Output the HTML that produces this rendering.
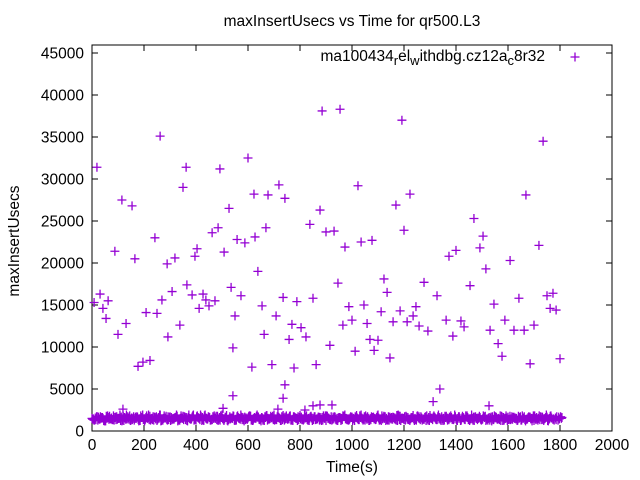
<!DOCTYPE html>
<html><head><meta charset="utf-8"><style>
body{margin:0;background:#fff}
svg{display:block;font-family:"Liberation Sans",sans-serif}
</style></head><body>
<svg id="chart" width="640" height="480" viewBox="0 0 640 480">
<rect width="640" height="480" fill="#fff"/>
<text x="352" y="26" font-size="15.5" text-anchor="middle">maxInsertUsecs vs Time for qr500.L3</text>
<g id="axes"></g>
<g id="points"></g>
<text x="545" y="61" font-size="15.5" text-anchor="end">ma100434<tspan font-size="13" dy="4">r</tspan><tspan dy="-4">el</tspan><tspan font-size="13" dy="4">w</tspan><tspan dy="-4">ithdbg.cz12a</tspan><tspan font-size="13" dy="4">c</tspan><tspan dy="-4">8r32</tspan></text>
<path d="M570.5 57h9M575 52.5v9" stroke="#9400d3" stroke-width="1.3"/>
<text x="352" y="472" font-size="15.5" text-anchor="middle">Time(s)</text>
<text transform="translate(19,241) rotate(-90)" font-size="15.5" text-anchor="middle">maxInsertUsecs</text>
</svg>
<script>
const xTicks=[0,200,400,600,800,1000,1200,1400,1600,1800,2000];
const yTicks=[0,5000,10000,15000,20000,25000,30000,35000,40000,45000];
const outT=[19,8,31,42,54,62,88,100,115,131,154,165,177,196,208,223,242,250,262,269,289,292,308,319,338,350,362,365,385,396,404,412,427,438,450,462,473,485,492,508,527,535,542,550,558,573,588,600,615,623,627,638,654,662,669,677,692,708,719,735,742,758,769,777,788,804,823,838,850,862,877,885,900,915,931,946,954,965,973,988,1000,1012,1023,1035,1046,1058,1069,1077,1085,1100,1112,1123,1135,1146,1158,1169,1185,1192,1200,1212,1223,1235,1246,1258,1277,1292,1312,1327,1338,1362,1373,1388,1400,1419,1431,1454,1469,1492,1504,1515,1531,1546,1562,1577,1588,1608,1623,1642,1662,1669,1685,1700,1719,1735,1750,1762,1773,1785,1800,119,504,542,742,735,850,877,923,715,819,1527];
const outV=[31400,15300,16300,14600,13400,15500,21400,11500,27500,12800,26800,20500,7700,8200,14100,8400,23000,14000,35100,15600,19900,11200,16600,20600,12600,29000,31400,17400,16200,20800,21700,14600,16300,15600,14900,23600,15500,24200,31200,21300,26500,17100,9900,13700,22800,16100,22400,32500,7600,28200,23100,19000,14900,11500,24200,28100,7900,13700,29300,15900,27700,10900,12700,7500,15400,12300,11200,24600,15800,7900,26300,38100,23700,10200,23800,17600,38300,12600,21900,14800,13200,9500,29200,22500,15000,12800,10900,22700,9600,10800,14200,18100,16500,8700,13000,26900,14300,37000,23900,13000,28200,13700,14800,12500,17700,11900,3500,16100,5000,13200,20800,11300,21500,13100,12400,17300,25300,21800,23200,19300,12000,15100,10400,8900,13200,20300,12000,15800,12000,28100,8000,12600,22100,34500,16100,14600,16400,14400,8600,2600,2700,4200,5500,3900,3000,3100,3100,2600,2500,3000];
const bandT=[0,10,20,30,40,50,60,70,80,90,100,110,120,130,140,150,160,170,180,190,200,210,220,230,240,250,260,270,280,290,300,310,320,330,340,350,360,370,380,390,400,410,420,430,440,450,460,470,480,490,500,510,520,530,540,550,560,570,580,590,600,610,620,630,640,650,660,670,680,690,700,710,720,730,740,750,760,770,780,790,800,810,820,830,840,850,860,870,880,890,900,910,920,930,940,950,960,970,980,990,1000,1010,1020,1030,1040,1050,1060,1070,1080,1090,1100,1110,1120,1130,1140,1150,1160,1170,1180,1190,1200,1210,1220,1230,1240,1250,1260,1270,1280,1290,1300,1310,1320,1330,1340,1350,1360,1370,1380,1390,1400,1410,1420,1430,1440,1450,1460,1470,1480,1490,1500,1510,1520,1530,1540,1550,1560,1570,1580,1590,1600,1610,1620,1630,1640,1650,1660,1670,1680,1690,1700,1710,1720,1730,1740,1750,1760,1770,1780,1790,1800];
const bandV=[1500,1300,1700,1400,1600,1200,1800,1450,1350,1650,1500,1250,1750,1400,1550,1300,1700,1500,1200,1600,1450,1800,1350,1500,1650,1250,1900,1400,1550,1300,1700,1450,1600,1200,1500,1750,1350,1600,1400,1900,1300,1550,1700,1250,1500,1650,1400,1800,1350,1600,1900,1450,1300,1700,1500,1250,1800,1400,1600,1350,1550,1750,1300,1500,1650,1200,1450,1800,1400,1600,1900,1350,1550,1700,1300,1500,1750,1400,1600,1250,1850,1450,1550,1300,1700,1500,1350,1650,1400,1800,1250,1550,1700,1450,1300,1600,1500,1750,1350,1400,1650,1250,1550,1800,1450,1300,1700,1500,1600,1350,1900,1400,1550,1250,1700,1450,1600,1300,1800,1500,1350,1650,1400,1550,1250,1750,1500,1300,1600,1450,1850,1350,1550,1700,1400,1250,1600,1500,1800,1350,1450,1700,1300,1550,1650,1400,1900,1250,1500,1750,1350,1600,1450,1300,1700,1550,1400,1800,1250,1500,1650,1350,1600,1450,1750,1300,1550,1400,1700,1500,1250,1600,1800,1350,1450,1650,1500];
const X0=92,X1=612,Y0=431,Y1=45,XMAX=2000,YMAX=45952;
function sx(t){return X0+(X1-X0)*t/XMAX;}
function sy(v){return Y0-(Y0-Y1)*v/YMAX;}
const NS='http://www.w3.org/2000/svg';
const axes=document.getElementById('axes');
const pts=document.getElementById('points');
function mk(tag,attrs,parent){const e=document.createElementNS(NS,tag);for(const k in attrs)e.setAttribute(k,attrs[k]);parent.appendChild(e);return e;}
const frame=mk('rect',{x:X0,y:Y1,width:X1-X0,height:Y0-Y1,fill:'none',stroke:'#000','stroke-width':1},axes);


xTicks.forEach(t=>{
  const x=sx(t);
  const tk=mk('path',{d:`M${x} ${Y0}v-6M${x} ${Y1}v6`,stroke:'#000','stroke-width':1},axes);
  
  
  const lb=mk('text',{x:x,y:Y0+19,'font-size':15.5,'text-anchor':'middle'},axes);
  lb.textContent=t;
  
  
});
yTicks.forEach(v=>{
  const y=sy(v);
  const tk=mk('path',{d:`M${X0} ${y}h6M${X1} ${y}h-6`,stroke:'#000','stroke-width':1},axes);
  
  
  const lb=mk('text',{x:X0-8,y:y+5.5,'font-size':15.5,'text-anchor':'end'},axes);
  lb.textContent=v;
  
  
});
function plus(t,v,name){
  const x=sx(t),y=sy(v);
  const p=mk('path',{d:`M${x-4.5} ${y}h9M${x} ${y-4.5}v9`,stroke:'#9400d3','stroke-width':1.3,fill:'none'},pts);
  
  
}
bandT.forEach((t,i)=>plus(t,bandV[i],'point-baseline'));
bandT.forEach((t,i)=>plus(t+5,bandV[(i+7)%bandV.length],'point-baseline'));
bandT.forEach((t,i)=>plus(t+2.5,bandV[(i+13)%bandV.length],'point-baseline'));
bandT.forEach((t,i)=>plus(t+7.5,bandV[(i+29)%bandV.length],'point-baseline'));
outT.forEach((t,i)=>plus(t,outV[i],'point-outlier'));
</script>
</body></html>
